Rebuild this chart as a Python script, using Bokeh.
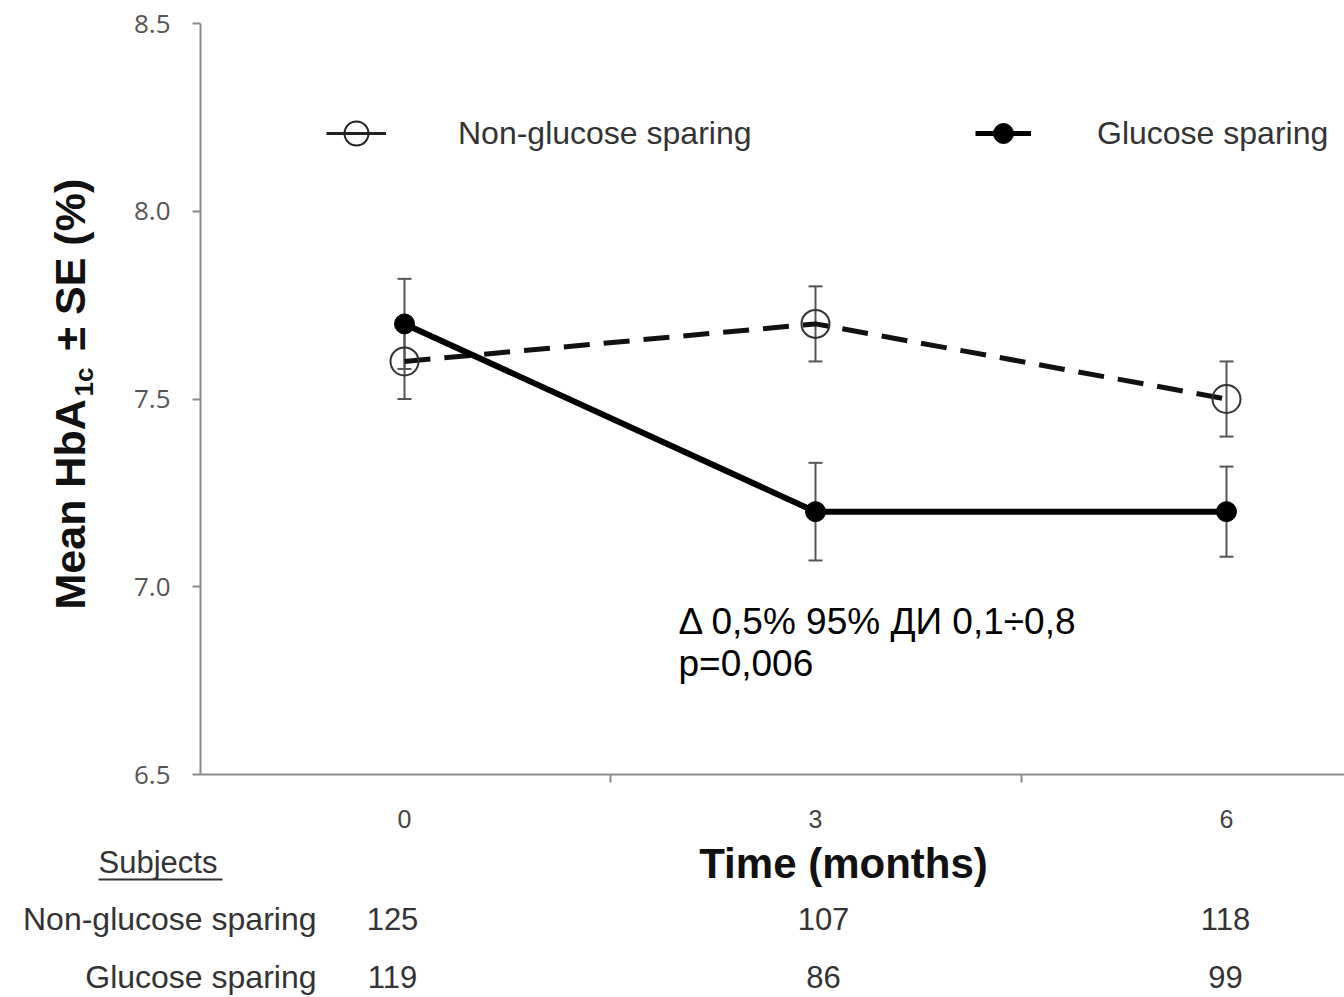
import numpy as np
from bokeh.plotting import figure
from bokeh.models import (Range1d, LinearAxis, FixedTicker, PrintfTickFormatter, Whisker,
                          TeeHead, ColumnDataSource, Label, Legend, LegendItem, Arrow)
from bokeh.embed import file_html
from bokeh.resources import INLINE

# ---------------- data ----------------
months = [0, 3, 6]
tick_labels = ["0", "3", "6"]
non_mean = [7.6, 7.7, 7.5]
non_se = [0.10, 0.10, 0.10]
gs_mean = [7.7, 7.2, 7.2]
gs_se = [0.12, 0.13, 0.12]
subjects_non = [125, 107, 118]
subjects_gs = [119, 86, 99]
series_names = ["Non-glucose sparing", "Glucose sparing"]
y_ticks = [6.5, 7.0, 7.5, 8.0, 8.5]
annotation_lines = ["\u0394 0,5% 95% \u0414\u0418 0,1\u00f70,8", "p=0,006"]

# ---------------- layout (pixel -> data mapping) ----------------
W, H = 1344, 997
AXL, AXB, AXT = 200, 774, 23          # axis positions in pixels
PX0, PXU = 404, 137.0                 # x pixel of month 0, pixels per month
Y_LO, Y_HI = 6.5, 8.5


def dx(px):
    return (px - PX0) / PXU


def dy(py):
    return Y_LO + (AXB - py) * (Y_HI - Y_LO) / (AXB - AXT)


p = figure(width=W, height=H, x_range=Range1d(dx(0), dx(W)), y_range=Range1d(dy(H), dy(0)),
           output_backend="svg", toolbar_location=None, title=None,
           x_axis_type=None, y_axis_type=None,
           min_border_left=0, min_border_right=0, min_border_top=0, min_border_bottom=0)
p.outline_line_color = None
p.background_fill_color = "white"
p.border_fill_color = "white"

AX = "#8a8a8a"

yaxis = LinearAxis(ticker=FixedTicker(ticks=y_ticks),
                   formatter=PrintfTickFormatter(format="%.1f"),
                   fixed_location=dx(AXL), bounds=(Y_LO, Y_HI))
yaxis.axis_line_color = AX
yaxis.axis_line_width = 2
yaxis.major_tick_line_color = AX
yaxis.major_tick_line_width = 2
yaxis.major_tick_out = 8
yaxis.major_tick_in = 0
yaxis.minor_tick_line_color = None
yaxis.major_label_standoff = 22
yaxis.major_label_text_font = "Open Sans"
yaxis.major_label_text_font_size = "26px"
yaxis.major_label_text_color = "#555555"
p.add_layout(yaxis, "left")

xaxis = LinearAxis(ticker=FixedTicker(ticks=months, minor_ticks=[1.5, 4.5]),
                   fixed_location=Y_LO, bounds=(dx(AXL), dx(W)))
xaxis.major_label_overrides = {m: t for m, t in zip(months, tick_labels)}
xaxis.axis_line_color = AX
xaxis.axis_line_width = 2
xaxis.major_tick_out = 0
xaxis.major_tick_in = 0
xaxis.major_tick_line_color = None
xaxis.minor_tick_line_color = AX
xaxis.minor_tick_line_width = 2
xaxis.minor_tick_out = 8
xaxis.minor_tick_in = 0
xaxis.major_label_standoff = 27
xaxis.major_label_text_font = "Liberation Sans"
xaxis.major_label_text_font_size = "25px"
xaxis.major_label_text_color = "#444444"
p.add_layout(xaxis, "below")

# ---------------- data glyphs ----------------
src_non = ColumnDataSource(dict(x=months, y=non_mean,
                                lo=[m - s for m, s in zip(non_mean, non_se)],
                                hi=[m + s for m, s in zip(non_mean, non_se)]))
src_gs = ColumnDataSource(dict(x=months, y=gs_mean,
                               lo=[m - s for m, s in zip(gs_mean, gs_se)],
                               hi=[m + s for m, s in zip(gs_mean, gs_se)]))

EB = "#555555"
for src in (src_non, src_gs):
    w = Whisker(source=src, base="x", lower="lo", upper="hi", dimension="height",
                line_color=EB, line_width=2,
                upper_head=TeeHead(size=14, line_color=EB, line_width=2),
                lower_head=TeeHead(size=14, line_color=EB, line_width=2))
    p.add_layout(w)

p.line("x", "y", source=src_non, line_color="#111111", line_width=5, line_dash="26 14")
p.line("x", "y", source=src_gs, line_color="black", line_width=6)
p.scatter("x", "y", source=src_non, marker="circle", size=28, fill_color=None,
          line_color="#333333", line_width=2)
p.scatter("x", "y", source=src_gs, marker="circle", size=20, fill_color="black",
          line_color="black")

# ---------------- legends (legend-only renderers hold no visible point) ----------------
nan = [float("nan")]
leg_l1 = p.line(x=nan, y=nan, line_color="#222222", line_width=3)
leg_s1 = p.scatter(x=nan, y=nan, marker="circle", size=26, fill_color=None,
                   line_color="#222222", line_width=2)
leg_l2 = p.line(x=nan, y=nan, line_color="black", line_width=5)
leg_s2 = p.scatter(x=nan, y=nan, marker="circle", size=20, fill_color="black",
                   line_color="black")

LEG_CY = 133
lg1 = Legend(items=[LegendItem(label=series_names[0], renderers=[leg_l1, leg_s1])],
             location=(326, (H - LEG_CY) - 30), glyph_width=60, glyph_height=60,
             label_height=60, label_standoff=72, padding=0, margin=0,
             border_line_color=None, background_fill_alpha=0)
lg2 = Legend(items=[LegendItem(label=series_names[1], renderers=[leg_l2, leg_s2])],
             location=(975, (H - LEG_CY) - 25), glyph_width=56, glyph_height=50,
             label_height=50, label_standoff=66, padding=0, margin=0,
             border_line_color=None, background_fill_alpha=0)
for lg in (lg1, lg2):
    lg.label_text_font = "Liberation Sans"
    lg.label_text_font_size = "32px"
    lg.label_text_color = "#333333"
    lg.label_text_baseline = "middle"
    p.add_layout(lg)

# ---------------- y axis title with subscript ----------------
ytitle_parts = [("Mean HbA", 609, 69, "43px"), ("1c", 396, 83, "26px"),
                ("\u00b1 SE (%)", 350, 69, "43px")]
for txt, py, px, fs in ytitle_parts:
    p.add_layout(Label(x=dx(px), y=dy(py), text=txt, angle=np.pi / 2,
                       text_align="left", text_baseline="middle",
                       text_font="Liberation Sans", text_font_style="bold",
                       text_font_size=fs, text_color="#111111"))

# ---------------- x axis title ----------------
p.add_layout(Label(x=dx(843), y=dy(863), text="Time (months)", text_align="center",
                   text_baseline="middle", text_font="Liberation Sans",
                   text_font_style="bold", text_font_size="42px", text_color="#111111"))

# ---------------- annotation ----------------
for line_txt, cy in zip(annotation_lines, [621, 663]):
    p.add_layout(Label(x=dx(678), y=dy(cy), text=line_txt, text_align="left",
                       text_baseline="middle", text_font="Liberation Sans",
                       text_font_size="37px", text_color="black"))

# ---------------- subjects table ----------------
TC = "#333333"
p.add_layout(Label(x=dx(98), y=dy(862), text="Subjects", text_align="left",
                   text_baseline="middle", text_font="Liberation Sans",
                   text_font_size="31px", text_color=TC))
p.add_layout(Arrow(end=None, x_start=dx(98), y_start=dy(879), x_end=dx(222), y_end=dy(879),
                   line_color=TC, line_width=2))
row_cy = [918, 976]
count_px = [392, 823, 1225]
for name, counts, cy in zip(series_names, [subjects_non, subjects_gs], row_cy):
    p.add_layout(Label(x=dx(316), y=dy(cy), text=name, text_align="right",
                       text_baseline="middle", text_font="Liberation Sans",
                       text_font_size="32px", text_color=TC))
    for cx, c in zip(count_px, counts):
        p.add_layout(Label(x=dx(cx), y=dy(cy), text=str(c), text_align="center",
                           text_baseline="middle", text_font="Liberation Sans",
                           text_font_size="31px", text_color=TC))

open("out.html", "w").write(file_html(p, INLINE))
